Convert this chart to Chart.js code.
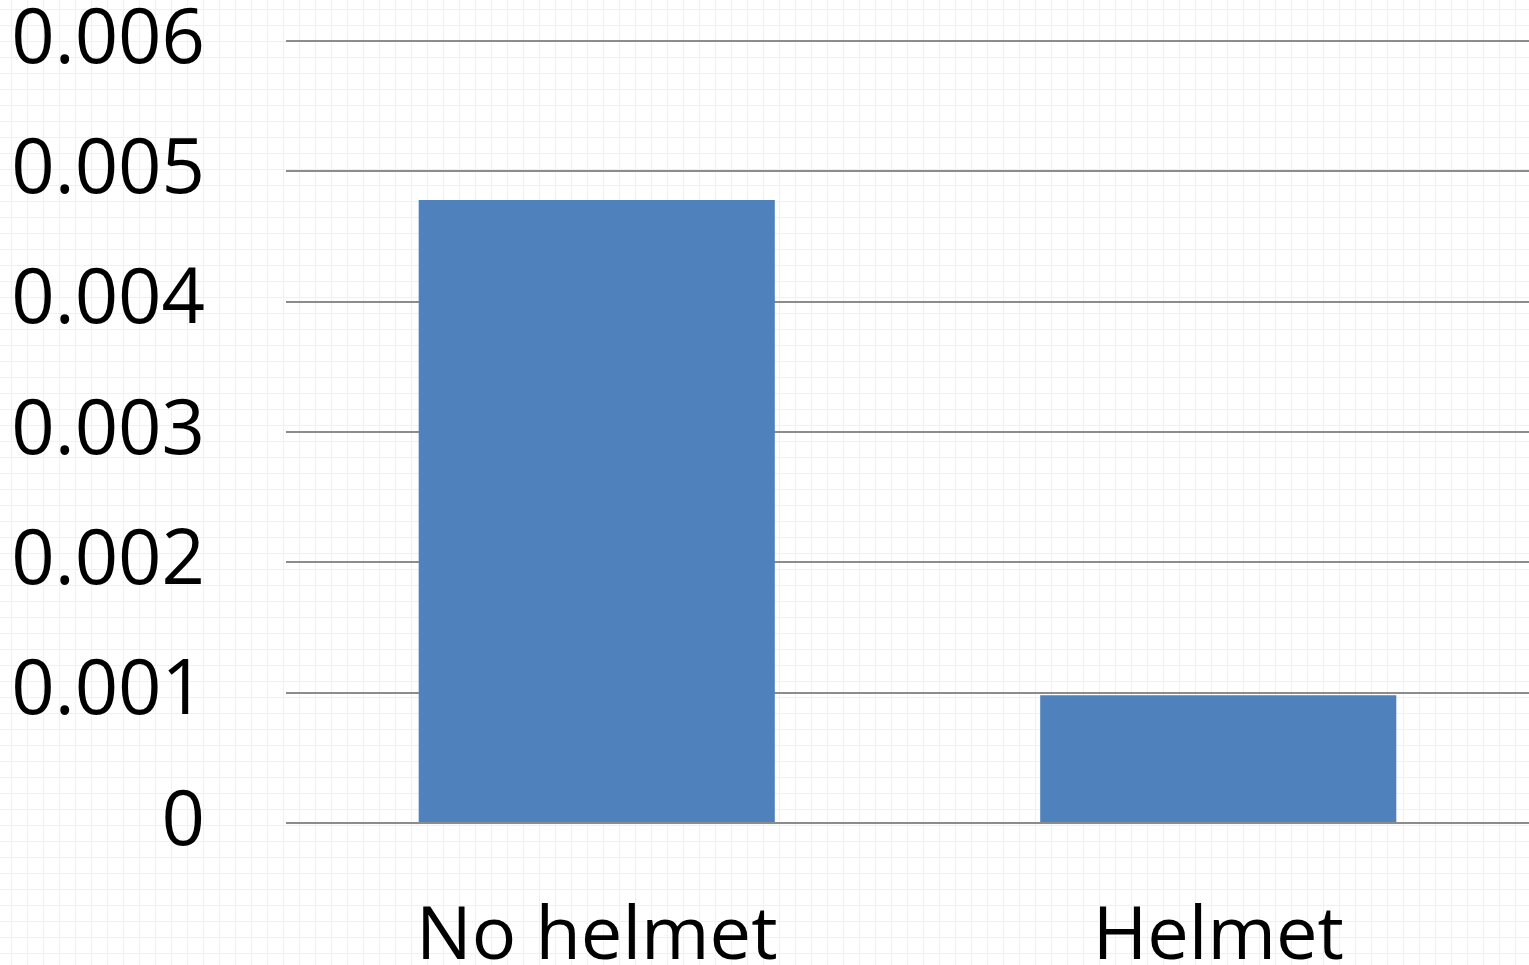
<!DOCTYPE html>
<html>
<head>
<meta charset="utf-8">
<script src="https://cdn.jsdelivr.net/npm/chart.js@4"></script>
<style>
    html, body { margin: 0; padding: 0; }
    body {
        width: 1529px; height: 965px; overflow: hidden;
        background-color: #ffffff;
        background-image:
            linear-gradient(to right, #f0f0f0 1px, transparent 1px),
            linear-gradient(to bottom, #f0f0f0 1px, transparent 1px);
        background-size: 16px 16px;
        background-position: 11px 9px;
    }
    #wrap { position: relative; width: 1529px; height: 965px; }
</style>
</head>
<body>
<div id="wrap"><canvas id="helmetChart"></canvas></div>
<script>
// --- Data ---
const categories = ['No helmet', 'Helmet'];
const values = [0.00478, 0.00098];
const yTicks = [0, 0.001, 0.002, 0.003, 0.004, 0.005, 0.006];

const FONT = "'Open Sans', sans-serif";

const ctx = document.getElementById('helmetChart').getContext('2d');
new Chart(ctx, {
    type: 'bar',
    data: {
        labels: categories,
        datasets: [{
            data: values,
            backgroundColor: '#4f81bd',
            borderWidth: 0,
            categoryPercentage: 1.0,
            barPercentage: 0.573
        }]
    },
    options: {
        responsive: true,
        maintainAspectRatio: false,
        animation: false,
        layout: { padding: { top: 41, right: 0, bottom: 0, left: 0 } },
        plugins: { legend: { display: false }, tooltip: { enabled: false } },
        scales: {
            x: {
                grid: { display: false },
                border: { display: false },
                ticks: {
                    color: '#000',
                    font: { family: FONT, size: 74, lineHeight: 1.0 },
                    padding: 70,
                    maxRotation: 0
                },
                afterFit: (scale) => { scale.height = 142; }
            },
            y: {
                min: 0, max: 0.006,
                grid: { color: '#8c8c8c', lineWidth: 2, drawTicks: false },
                border: { display: false },
                afterBuildTicks: (scale) => { scale.ticks = yTicks.map(v => ({ value: v })); },
                ticks: {
                    color: '#000',
                    font: { family: FONT, size: 76, lineHeight: 1.0 },
                    padding: 81,
                    callback: (v) => v === 0 ? '0' : v.toFixed(3)
                },
                afterFit: (scale) => {
                    scale.width = 286;
                    scale.paddingTop = 0;
                    scale.paddingBottom = 0;
                }
            }
        }
    }
});
</script>
</body>
</html>
